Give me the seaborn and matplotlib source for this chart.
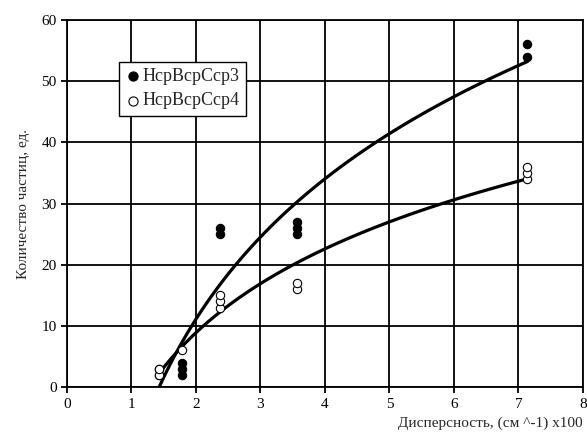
import numpy as np
import pandas as pd
import seaborn as sns
import matplotlib.pyplot as plt

# dispersion values (1/d), cm^-1 x100
x3 = [1.43, 1.43, 1.786, 1.786, 1.786, 2.38, 2.38, 3.57, 3.57, 3.57, 7.14, 7.14]
y3 = [2, 3, 2, 3, 4, 25, 26, 25, 26, 27, 54, 56]

x4 = [1.43, 1.43, 1.786, 2.38, 2.38, 2.38, 3.57, 3.57, 7.14, 7.14, 7.14]
y4 = [2, 3, 6, 13, 14, 15, 16, 17, 34, 35, 36]

label3 = 'HcpBcpCcp3'
label4 = 'HcpBcpCcp4'

df3 = pd.DataFrame({'x': x3, 'y': y3})
df4 = pd.DataFrame({'x': x4, 'y': y4})

sns.set_style('ticks')
plt.rcParams['font.family'] = ['Liberation Serif', 'DejaVu Serif']
plt.rcParams['font.size'] = 11

fig = plt.figure(figsize=(5.87, 4.41), dpi=100)
ax = fig.add_axes([0.114, 0.122, 0.879, 0.833])

# log trend lines (like excel)
sns.regplot(data=df3, x='x', y='y', logx=True, ci=None, scatter=False,
            color='black', line_kws={'linewidth': 2.3, 'zorder': 3}, ax=ax)
sns.regplot(data=df4, x='x', y='y', logx=True, ci=None, scatter=False,
            color='black', line_kws={'linewidth': 2.3, 'zorder': 3}, ax=ax)

sns.scatterplot(data=df3, x='x', y='y', color='black', s=36, edgecolor='black',
                linewidth=0.8, label=label3, zorder=4, ax=ax)
sns.scatterplot(data=df4, x='x', y='y', color='white', s=36, edgecolor='black',
                linewidth=0.8, label=label4, zorder=5, ax=ax)

ax.set_xlim(0, 8)
ax.set_ylim(0, 60)
ax.set_xticks(range(0, 9))
ax.set_yticks(range(0, 61, 10))
ax.grid(True, color='black', linewidth=1.3)
for s in ax.spines.values():
    s.set_color('black')
    s.set_linewidth(1.3)
ax.tick_params(direction='out', length=4, width=1.3, colors='black', labelsize=11)

ax.set_xlabel('Дисперсность, (см ^-1) x100', loc='right', fontsize=11, labelpad=4)
ax.set_ylabel('Количество частиц, ед.', fontsize=11, labelpad=8)

leg = ax.legend(loc='upper left', bbox_to_anchor=(0.1, 0.886), frameon=True,
                fancybox=False, edgecolor='black', framealpha=1,
                handletextpad=0.1, borderpad=0.35, labelspacing=0.4,
                handlelength=0.9, borderaxespad=0, fontsize=13, markerscale=1.1)
leg.get_frame().set_linewidth(1.0)

fig.savefig('out.png', dpi=100)
